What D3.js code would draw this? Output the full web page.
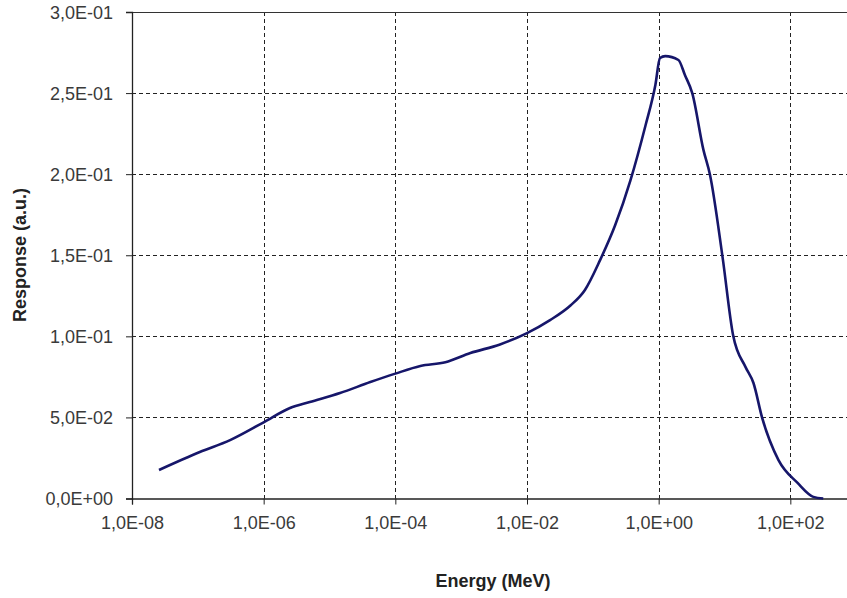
<!DOCTYPE html>
<head>
<style type="text/css">
	body { margin: 0; background: #fff; }
	text { font-family: "Liberation Sans", Arial, sans-serif; }
</style>
</head>
<script src="https://d3js.org/d3.v7.min.js"></script>
<body>
	<svg width="847" height="598"></svg>
	<script>
	// energy (MeV, log10) and response
	var logEnergy = [-7.59, -6.97, -6.51, -6.0, -5.6, -5.3, -4.84, -4.38, -4.0, -3.62, -3.24, -2.86, -2.41, -2.0,
		-1.65, -1.34, -1.12, -0.89, -0.66, -0.43, -0.2, -0.05, 0.02, 0.1, 0.3, 0.4, 0.51, 0.68, 0.78, 0.97,
		1.13, 1.32, 1.44, 1.57, 1.82, 2.11, 2.35, 2.5];
	var response = [0.0176, 0.0287, 0.036, 0.047, 0.0558, 0.0595, 0.065, 0.0718, 0.077, 0.0817, 0.084, 0.0897, 0.095, 0.102,
		0.110, 0.119, 0.1286, 0.147, 0.1686, 0.196, 0.230, 0.255, 0.2716, 0.2728, 0.2704, 0.261, 0.25, 0.215, 0.1995, 0.149,
		0.1008, 0.081, 0.0712, 0.050, 0.0237, 0.0096, 0.001, 0];

	var xTicks = [1e-8, 1e-6, 1e-4, 1e-2, 1, 1e2];
	var xTickLabels = ["1,0E-08", "1,0E-06", "1,0E-04", "1,0E-02", "1,0E+00", "1,0E+02"];
	var yTicks = [0, 0.05, 0.1, 0.15, 0.2, 0.25, 0.3];
	var yTickLabels = ["0,0E+00", "5,0E-02", "1,0E-01", "1,5E-01", "2,0E-01", "2,5E-01", "3,0E-01"];

	var svg = d3.select("svg");

	var x = d3.scaleLog()
		.domain([1e-8, 1e4])
		.range([132, 922]);

	var y = d3.scaleLinear()
		.domain([0, 0.3])
		.range([498.5, 12]);

	// grid
	var grid = svg.append("g").attr("stroke", "#222").attr("stroke-width", 1).attr("stroke-dasharray", "4,3");
	grid.selectAll(".hg")
		.data(yTicks.slice(1, -1))
		.enter().append("line")
		.attr("x1", x.range()[0]).attr("x2", x.range()[1])
		.attr("y1", function(d) { return Math.round(y(d)) + 0.5; })
		.attr("y2", function(d) { return Math.round(y(d)) + 0.5; });
	grid.selectAll(".vg")
		.data(xTicks.slice(1))
		.enter().append("line")
		.attr("y1", y.range()[1]).attr("y2", y.range()[0])
		.attr("x1", function(d) { return Math.round(x(d)) + 0.5; })
		.attr("x2", function(d) { return Math.round(x(d)) + 0.5; });

	// top border
	svg.append("line")
		.attr("x1", 132).attr("x2", 922)
		.attr("y1", 12.5).attr("y2", 12.5)
		.attr("stroke", "#333").attr("stroke-width", 1.2);

	var xAxis = svg.append("g")
		.attr("transform", "translate(0," + y(0) + ")")
		.call(d3.axisBottom(x)
			.tickValues(xTicks)
			.tickSize(6)
			.tickPadding(12)
			.tickFormat(function(d, i) { return xTickLabels[i]; }));

	var yAxis = svg.append("g")
		.attr("transform", "translate(" + x.range()[0] + ",0)")
		.call(d3.axisLeft(y)
			.tickValues(yTicks)
			.tickSize(6)
			.tickPadding(13)
			.tickFormat(function(d, i) { return yTickLabels[i]; }));

	[xAxis, yAxis].forEach(function(a) {
		a.select(".domain").attr("stroke", "#222").attr("stroke-width", 1.3);
		a.selectAll(".tick line").attr("stroke", "#222");
		a.selectAll(".tick text")
			.attr("font-size", 18)
			.attr("fill", "#3a3a3a")
			.style("font-family", "'Liberation Sans', Arial, sans-serif");
	});
	yAxis.selectAll(".tick text").attr("dy", "0.35em");

	// curve
	var line = d3.line()
		.x(function(d) { return x(Math.pow(10, d[0])); })
		.y(function(d) { return y(d[1]); })
		.curve(d3.curveMonotoneX);

	svg.append("path")
		.datum(d3.zip(logEnergy, response))
		.attr("fill", "none")
		.attr("stroke", "#16166a")
		.attr("stroke-width", 2.6)
		.attr("stroke-linejoin", "round")
		.attr("d", line);

	svg.append("text")
		.attr("x", 493)
		.attr("y", 587)
		.attr("text-anchor", "middle")
		.attr("font-size", 18)
		.attr("font-weight", "bold")
		.attr("fill", "#222")
		.text("Energy (MeV)");

	svg.append("text")
		.attr("transform", "translate(26,255) rotate(-90)")
		.attr("text-anchor", "middle")
		.attr("font-size", 18)
		.attr("font-weight", "bold")
		.attr("fill", "#222")
		.text("Response (a.u.)");
	</script>
</body>
